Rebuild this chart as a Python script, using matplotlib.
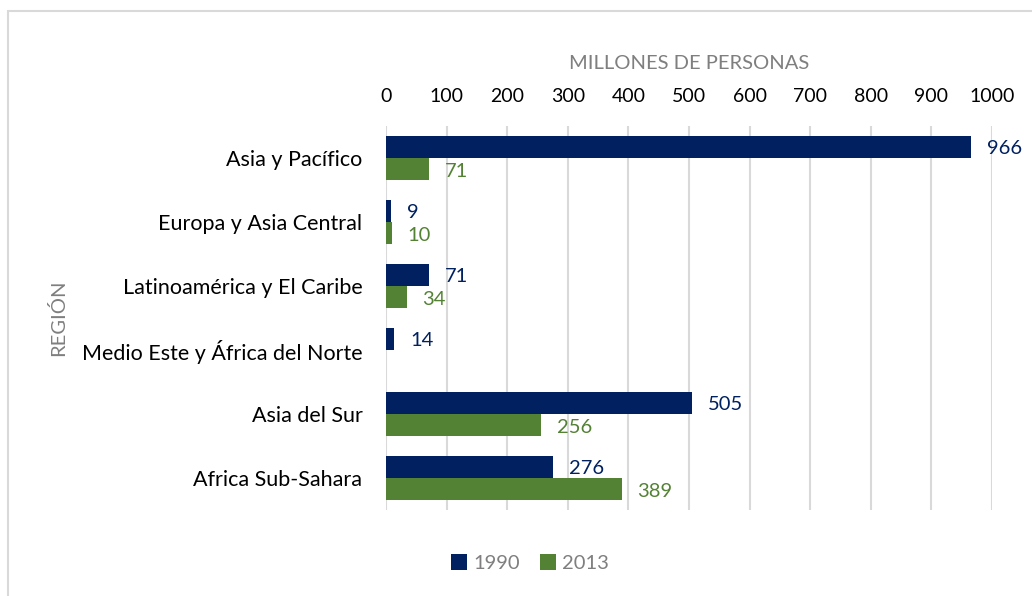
import numpy as np
import matplotlib
matplotlib.use('Agg')
import matplotlib.pyplot as plt
from matplotlib.patches import Rectangle

plt.rcParams['font.family'] = ['Lato', 'DejaVu Sans']

# Data
regions = ['Asia y Pacífico', 'Europa y Asia Central', 'Latinoamérica y El Caribe',
           'Medio Este y África del Norte', 'Asia del Sur', 'Africa Sub-Sahara']
v1990 = [966, 9, 71, 14, 505, 276]
v2013 = [71, 10, 34, np.nan, 256, 389]
series_names = ['1990', '2013']
xticks = [0, 100, 200, 300, 400, 500, 600, 700, 800, 900, 1000]

navy = '#002060'
green = '#548235'
gray = '#7f7f7f'

fig = plt.figure(figsize=(10.32, 5.96), dpi=100)
ax = fig.add_axes([386/1032, 1 - 510/596, (992-386)/1032, (510-126)/596])

# outer chart border
fig.patches.append(Rectangle((8/1032, -0.1), 1.2, 1 - 11/596 + 0.1,
                             transform=fig.transFigure, fill=False,
                             edgecolor='#d9d9d9', linewidth=1.5))

y = np.arange(len(regions))
h = 0.35
b1 = ax.barh(y - h/2, v1990, height=h, color=navy, label=series_names[0])
b2 = ax.barh(y + h/2, v2013, height=h, color=green, label=series_names[1])

for yy, v in zip(y - h/2, v1990):
    ax.text(v + 26, yy + 0.03, str(v), va='center', ha='left', color=navy, fontsize=14.5)
for yy, v in zip(y + h/2, v2013):
    if not np.isnan(v):
        ax.text(v + 26, yy + 0.03, str(int(v)), va='center', ha='left', color=green, fontsize=14.5)

ax.set_xlim(0, 1000)
ax.set_ylim(len(regions) - 0.5, -0.5)
ax.set_yticks(y)
ax.set_yticklabels(regions, fontsize=15.5)
ax.set_xticks(xticks)
ax.set_xticklabels([str(t) for t in xticks], fontsize=14)
ax.xaxis.tick_top()
ax.xaxis.set_label_position('top')
ax.tick_params(axis='both', length=0, colors='black')
ax.tick_params(axis='x', pad=15)
ax.tick_params(axis='y', pad=17)
ax.grid(axis='x', color='#d9d9d9', linewidth=1.5)
ax.set_axisbelow(True)
for s in ax.spines.values():
    s.set_visible(False)

ax.set_xlabel('MILLONES DE PERSONAS', color=gray, fontsize=14.5, labelpad=14)
fig.text(58/1032, 1 - 318/596, 'REGIÓN', rotation=90, color=gray, fontsize=14.5,
         ha='center', va='center')

fig.legend(handles=[b1, b2], labels=series_names, loc='center',
           bbox_to_anchor=(530/1032, 1 - 563/596), ncol=2, frameon=False,
           fontsize=14.5, labelcolor=gray, handlelength=0.8, handleheight=0.8,
           handletextpad=0.3, columnspacing=1.0)

fig.savefig('out.png', dpi=100)
